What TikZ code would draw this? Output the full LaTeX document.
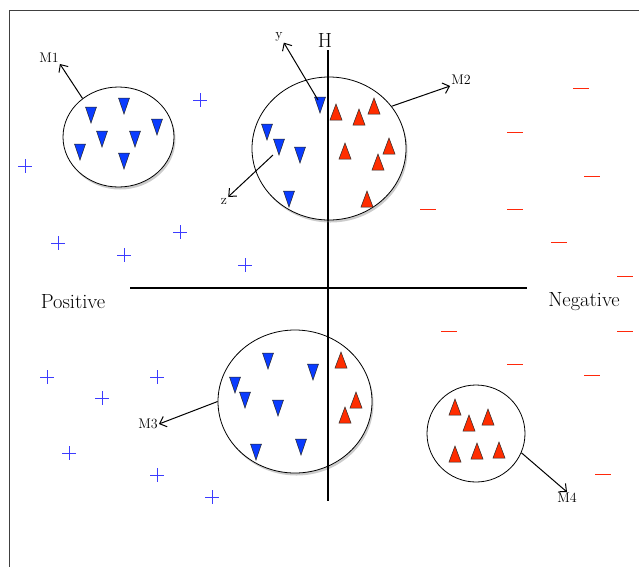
\documentclass[tikz,border=0pt]{standalone}
\usepackage{fontspec}
\usetikzlibrary{shapes.geometric,shadows,arrows.meta}
\definecolor{triblue}{RGB}{10,60,255}
\definecolor{trired}{RGB}{255,45,0}
\definecolor{plusblue}{RGB}{60,60,255}
\definecolor{minusred}{RGB}{255,40,10}
\begin{document}
\begin{tikzpicture}[x=1pt,y=-1pt,
		cluster/.style={draw,ellipse,line width=0.8pt,fill=white,inner sep=0pt},
		shade/.style={drop shadow={shadow xshift=1.5pt,shadow yshift=-2.5pt,opacity=0.4}},
		lbl/.style={inner sep=1pt,font=\fontsize{14}{16}\selectfont},
		side/.style={font=\fontsize{20.5}{22}\selectfont},
		axis/.style={line width=2pt},
		pointer/.style={-{Straight Barb[length=6pt,width=11pt]},line width=1pt},
		bluetri/.pic={\filldraw[fill=triblue,draw=black!85,line width=0.5pt] (-5.5,-8) -- (5.5,-8) -- (0,8) -- cycle;},
		redtri/.pic={\filldraw[fill=trired,draw=black!85,line width=0.5pt] (-6,8) -- (6,8) -- (0,-8) -- cycle;}]
	\path[use as bounding box,fill=white] (0,0) rectangle (639,566);
	\draw[line width=1pt,black!75] (9,10) rectangle (660,590);
	% axes
	\draw[axis] (130,288) -- (527,288);
	\draw[axis] (328,50) -- (328,501);
	\node[side] (lh) at (325,40) {H};
	\node[side] (lpos) at (73,302) {Positive};
	\node[side] (lneg) at (584,302) {Negative};
	% clusters
	\node[cluster,shade,minimum width=111,minimum height=100] (m1) at (118.5,137) {};
	\node[cluster,shade,minimum width=154,minimum height=143] (m2) at (329,148.5) {};
	\node[cluster,shade,minimum width=154,minimum height=143] (m3) at (295,401.5) {};
	\node[cluster,minimum width=98,minimum height=97] (m4) at (476,433.5) {};
	\draw[axis] (328,77) -- (328,221);
	\draw[axis] (328,330) -- (328,473);
	% points
	\foreach \x/\y in {91/115,124/106,102/139,135/139,157/127,80/152,124/161,
			320/105,267/132,279/147,300/155,289/199,
			268/361,313/372,235/385,245/400,278/408,256/452,301/447}
		\pic at (\x,\y) {bluetri};
	\foreach \x/\y in {336/112,359/117,374/106,345/151,389/146,378/162,367/199,
			341/360,356/400,345/415,
			455/407,469/423,488/417,455/454,477/451,499/450}
		\pic at (\x,\y) {redtri};
	\foreach \x/\y in {200/100,25/166,58/243,124/255,180/232,245/265,
			47/377,102/398,157/377,69/453,157/475,212/497}
		\draw[plusblue,line width=1.1pt] (\x-7,\y+0.5) -- (\x+7,\y+0.5) (\x+0.5,\y-7) -- (\x+0.5,\y+7);
	\foreach \x/\y in {581/88,515/132,592/176,428/209,515/209,559/242,625/276,
			449/331,625/331,515/364,592/375,603/474}
		\draw[minusred,line width=1.1pt] (\x-8,\y+0.5) -- (\x+8,\y+0.5);
	% labels and arrows
	\node[lbl] (lm1) at (49,58) {M1};
	\node[lbl] (lm2) at (461,80) {M2};
	\node[lbl] (lm3) at (148,424) {M3};
	\node[lbl] (lm4) at (567,498) {M4};
	\node[lbl] (ly) at (279,37) {y};
	\node[lbl] (lz) at (224,201) {z};
	\coordinate (ystart) at (318,100);
	\coordinate (zstart) at (273,155);
	\draw[pointer] (m1.133) -- (lm1.south east);
	\draw[pointer] (m2.34) -- (lm2.south west);
	\draw[pointer] (m3.180) -- (lm3.east);
	\draw[pointer] (m4.-23) -- (lm4.north);
	\draw[pointer] (ystart) -- (ly.south east);
	\draw[pointer] (zstart) -- (lz.north east);
\end{tikzpicture}
\end{document}
